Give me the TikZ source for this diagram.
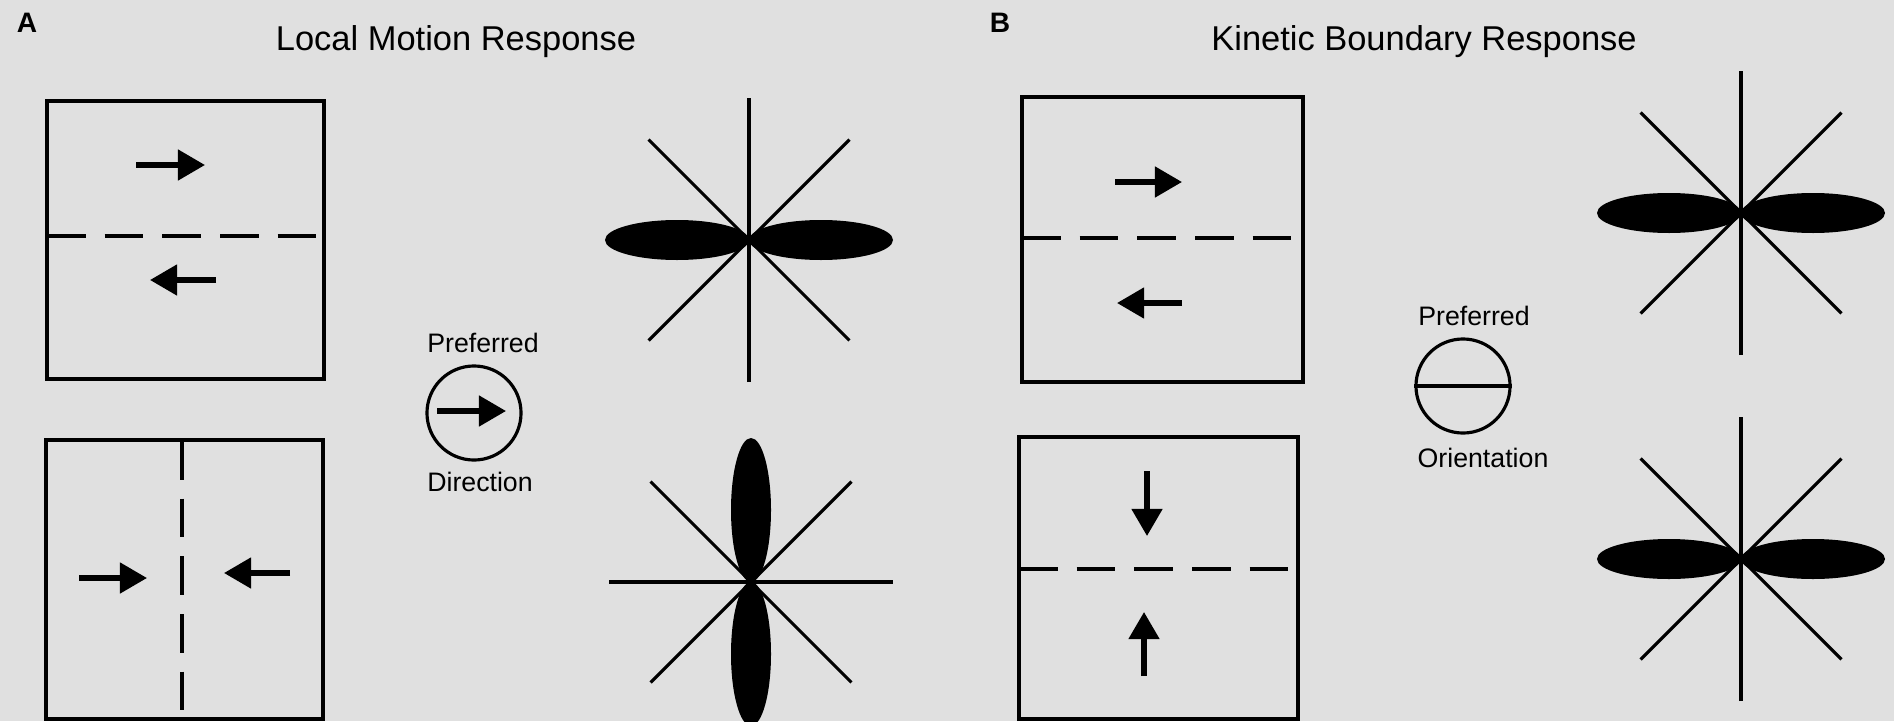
\documentclass[tikz,border=0pt]{standalone}
\usepackage{fontspec}
\setmainfont{Liberation Sans}
\usetikzlibrary{arrows.meta}

\definecolor{paper}{RGB}{224,224,224}

\begin{document}
\begin{tikzpicture}[x=0.01cm, y=-0.01cm,
        panel/.style={draw=black, line width=0.9pt},
        cut/.style={draw=black, line width=0.9pt, dash pattern=on 11pt off 5.4pt},
        motion/.style={-{Triangle[length=7.7pt, width=8.5pt]}, line width=1.5pt},
        axis/.style={draw=black, line width=0.9pt},
        lobe/.style={fill=black},
        dial/.style={circle, draw=black, line width=0.9pt, minimum size=0.94cm, inner sep=0pt},
        title/.style={font=\fontsize{9.8}{11}\selectfont, anchor=base},
        label/.style={font=\fontsize{7.6}{9}\selectfont, anchor=base},
        letter/.style={font=\fontsize{8}{9}\selectfont\bfseries, anchor=base}
      ]
      \useasboundingbox (0,0) rectangle (1894,721);
      \fill[paper] (0,0) rectangle (1894,721);
      \clip (0,0) rectangle (1894,721);

      % Panel letters and titles
      \node[letter] at (27,32)   (lblA) {A};
      \node[title]  at (456,50)  (ttlA) {Local Motion Response};
      \node[letter] at (1000,32) (lblB) {B};
      \node[title]  at (1424,50) (ttlB) {Kinetic Boundary Response};

      % Panel A — stimulus boxes
      \draw[panel] (47,101) rectangle (324,379);
      \draw[cut]   (47,236) -- (324,236);
      \draw[motion] (136,165) -- (205,165);
      \draw[motion] (216,280) -- (150,280);

      \draw[panel] (46,440) rectangle (323,719);
      \draw[cut]   (182,441) -- (182,719);
      \draw[motion] (79,578)  -- (147,578);
      \draw[motion] (290,573) -- (224,573);

      % Panel A — preferred direction
      \node[label] at (483,352) (prefA) {Preferred};
      \node[dial]  at (474,413) (dirdial) {};
      \node[label] at (480,491) (dirA) {Direction};
      \draw[motion] (437,411) -- (506,411);

      % Panel B — stimulus boxes
      \draw[panel] (1022,97) rectangle (1303,382);
      \draw[cut]   (1022,238) -- (1303,238);
      \draw[motion] (1115,182) -- (1182,182);
      \draw[motion] (1182,303) -- (1117,303);

      \draw[panel] (1019,437) rectangle (1298,719);
      \draw[cut]   (1019,569) -- (1298,569);
      \draw[motion] (1147,471) -- (1147,536);
      \draw[motion] (1144,676) -- (1144,612);

      % Panel B — preferred orientation
      \node[label] at (1474,325) (prefB) {Preferred};
      \node[dial]  at (1463,386) (oridial) {};
      \node[label] at (1483,467) (oriB) {Orientation};
      \draw[panel] (oridial.west) -- (oridial.east);

      % Polar plots: centre x / centre y / lobe angle
      \foreach \cx/\cy/\pa in {749/240/0, 751/582/90, 1741/213/0, 1741/559/0} {
        \begin{scope}[shift={(\cx,\cy)}]
          \foreach \t in {45,135,\pa+90}
            \draw[axis] ({\t}:142) -- ({\t+180}:142);
          \begin{scope}[rotate=\pa]
            \fill[lobe] (72,0)  ellipse [x radius=72, y radius=20];
            \fill[lobe] (-72,0) ellipse [x radius=72, y radius=20];
          \end{scope}
        \end{scope}
      }
    \end{tikzpicture}
\end{document}
